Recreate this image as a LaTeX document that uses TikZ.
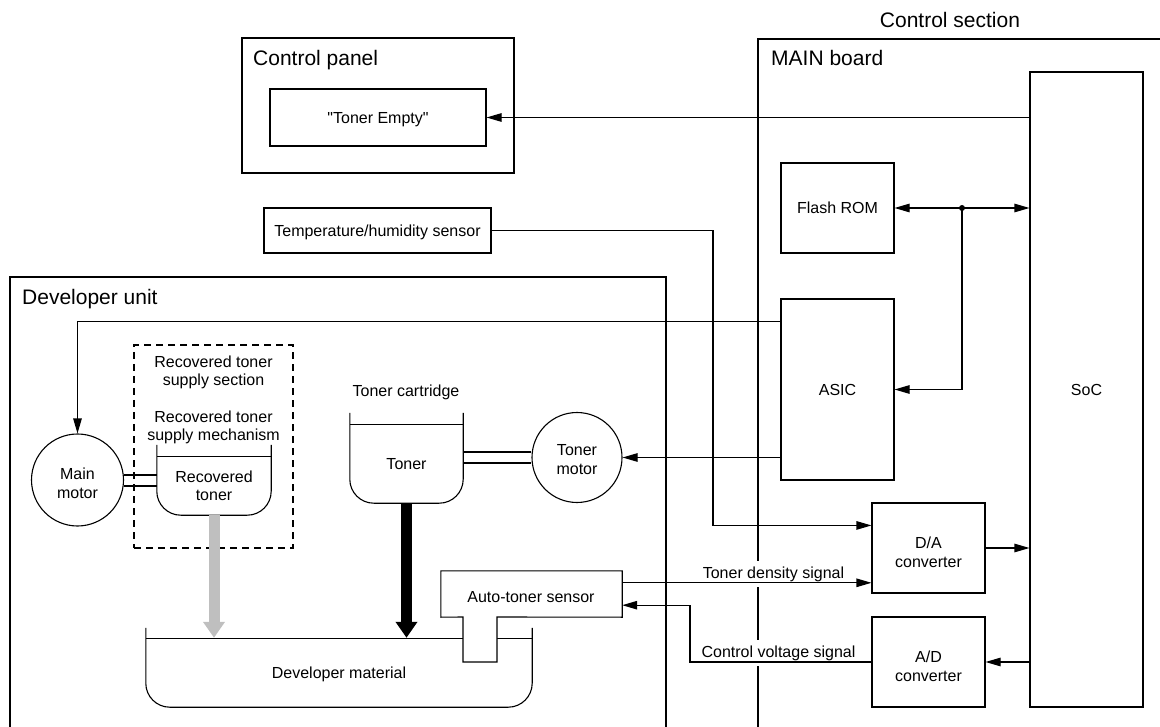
\documentclass[tikz,border=0pt]{standalone}
\usepackage{fontspec}
\setmainfont{Liberation Sans}
\usetikzlibrary{arrows.meta}
\begin{document}
\begin{tikzpicture}[x=1pt,y=-1pt,
  thinln/.style={line width=1.1pt},
  heavy/.style={line width=2.6pt},
  smtxt/.style={font=\fontsize{16}{18.5}\selectfont},
  bigtxt/.style={font=\fontsize{21}{25}\selectfont, inner sep=0pt},
  blk/.style={draw, rectangle, thinln, inner sep=0pt, smtxt, text height=11.5pt, text depth=0pt},
  area/.style={inner sep=0pt, smtxt, text height=11.5pt, text depth=0pt},
  txt/.style={smtxt, inner sep=0pt, align=center},
  motor/.style={draw, circle, thinln, inner sep=0pt},
  arr/.style={thinln, -{Triangle[length=15pt,width=8.5pt]}},
  bigarr/.style={line width=11pt, -{Triangle[length=16pt,width=21pt]}, shorten >=1pt},
  sigl/.style={smtxt, anchor=base, fill=white, inner sep=5.5pt},
  bucket/.style={thinln, rounded corners=24pt}
]
\useasboundingbox (0,0) rectangle (1160,727);

% frames
\draw[heavy] (10,740) -- (10,277) -- (666,277) -- (666,740);
\draw[heavy] (758,740) -- (758,39) -- (1170,39);
\node[draw, heavy, minimum width=272pt, minimum height=135pt, inner sep=0pt] (cp) at (378,105.5) {};

% titles
\node[bigtxt, anchor=base] (cs) at (950,28) {Control section};
\node[bigtxt, anchor=base west] (mbl) at (771,66) {MAIN board};
\node[bigtxt, anchor=base west] (cpl) at (253,66) {Control panel};
\node[bigtxt, anchor=base west] (dul) at (22,305) {Developer unit};

% boxes
\node[blk, minimum width=216pt, minimum height=57pt] (te) at (378,117.5) {\textquotedbl Toner Empty\textquotedbl};
\node[blk, minimum width=113pt, minimum height=635pt] (soc) at (1086.5,389.5) {SoC};
\node[blk, minimum width=113pt, minimum height=90pt] (flash) at (837.5,208) {Flash ROM};
\node[blk, minimum width=113pt, minimum height=181pt] (asic) at (837.5,389.5) {ASIC};
\node[blk, minimum width=113pt, minimum height=90pt] (da) at (928.5,548) {};
\node[blk, minimum width=113pt, minimum height=90pt] (ad) at (928.5,662) {};
\node[txt] (datx) at (928.5,552.4) {D/A\\converter};
\node[txt] (adtx) at (928.5,666.4) {A/D\\converter};
\node[blk, minimum width=227pt, minimum height=45pt] (temp) at (377.5,230.5) {Temperature/humidity sensor};

% recovered toner supply section
\node[draw, thinln, dash pattern=on 7pt off 5pt, minimum width=159pt, minimum height=203pt, inner sep=0pt] (rts) at (213.5,446.5) {};
\node[txt] (rtstx) at (213.5,372.2) {Recovered toner\\supply section};
\node[txt] (rtmtx) at (213.5,427.2) {Recovered toner\\supply mechanism};
\node[txt, minimum width=114pt, minimum height=58pt] (rt) at (214,486) {Recovered\\toner};
\draw[bucket] ([yshift=12pt]rt.north west) -- (rt.south west) -- (rt.south east) -- ([yshift=12pt]rt.north east);
\draw[thinln] (rt.north west) -- (rt.north east);

% motors
\node[motor, minimum size=92pt] (mm) at (77.5,480) {};
\node[txt] (mmtx) at (77.5,483.4) {Main\\motor};
\node[motor, minimum size=90pt] (tm) at (577,457.5) {};
\node[txt] (tmtx) at (577,459.4) {Toner\\motor};

% shafts
\draw[thinln] ([yshift=5pt]mm.east) -- ([yshift=5pt]mm.east -| rt.west);
\draw[thinln] ([yshift=-6pt]mm.east) -- ([yshift=-6pt]mm.east -| rt.west);

% toner cartridge
\node[smtxt, anchor=base, inner sep=0pt] (tctx) at (406,397) {Toner cartridge};
\node[area, minimum width=113pt, minimum height=78pt] (tb) at (406.5,464) {Toner};
\draw[bucket] ([yshift=12pt]tb.north west) -- (tb.south west) -- (tb.south east) -- ([yshift=12pt]tb.north east);
\draw[thinln] (tb.north west) -- (tb.north east);
\draw[thinln] ([yshift=5.5pt]tm.west -| tb.east) -- ([yshift=5.5pt]tm.west);
\draw[thinln] ([yshift=-5.5pt]tm.west -| tb.east) -- ([yshift=-5.5pt]tm.west);

% developer material
\node[area, minimum width=386pt, minimum height=68pt] (dm) at (339,673) {Developer material};
\draw[bucket] ([yshift=11pt]dm.north west) -- (dm.south west) -- (dm.south east) -- ([yshift=11pt]dm.north east);
\draw[thinln] (dm.north west) -- (dm.north east);

% auto-toner sensor
\node[inner sep=0pt, minimum width=181pt, minimum height=46pt] (ats) at (531.5,594) {};
\draw[thinln, fill=white] (ats.north west) -- (ats.north east) -- (ats.south east) -- (497,617) -- (497,662) -- (463,662) -- (463,617) -- (ats.south west) -- cycle;
\node[smtxt, anchor=base, inner sep=0pt] (atstx) at (531,602) {Auto-toner sensor};

% big toner flow arrows
\draw[bigarr, color={rgb,255:red,191;green,191;blue,191}] (rt.south) -- (rt.south |- dm.north);
\draw[bigarr] (tb.south) -- (tb.south |- dm.north);

% signal labels (white background)
\node[sigl] (tdsl) at (773.5,578) {Toner density signal};
\node[sigl] (cvsl) at (778.5,657) {Control voltage signal};

% connectors
\draw[arr] (te.east -| soc.west) -- (te.east);
\coordinate (j) at (962,208);
\draw[arr] (j) -- (flash.east);
\draw[arr] (j) -- (j -| soc.west);
\draw[arr] (j) |- (asic.east);
\fill (j) circle (3pt);
\draw[arr] ([yshift=-23pt]asic.north west) -| (mm.north);
\draw[arr] (tm.east -| asic.west) -- (tm.east);
\coordinate (tx) at (713,0);
\coordinate (dain) at ([yshift=-23pt]da.north west);
\draw[arr] (temp.east) -| (tx |- dain) -- (dain);
\coordinate (tdsA) at ([yshift=-12pt]ats.north east);
\draw[arr] (tdsA) -- (tdsA -| da.west);
\coordinate (cvsA) at ([yshift=12pt]ats.south east);
\coordinate (cvx) at (690,0);
\draw[arr] (ad.west) -| (cvx |- cvsA) -- (cvsA);
\draw[arr] (da.east) -- (da.east -| soc.west);
\draw[arr] (ad.east -| soc.west) -- (ad.east);
\end{tikzpicture}
\end{document}
